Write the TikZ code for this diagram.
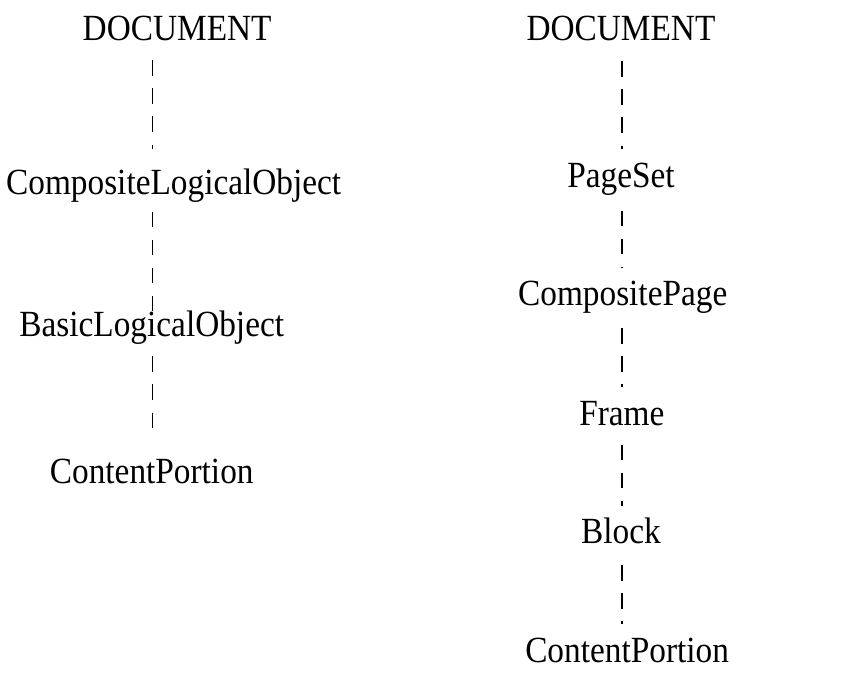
\documentclass[tikz,border=0pt]{standalone}
\usepackage{fontspec}
\setmainfont{Liberation Serif}
\usetikzlibrary{calc}
\begin{document}
\begin{tikzpicture}[x=1pt,y=1pt,xscale=0.877,yscale=0.971,
  lbl/.style={anchor=base,inner sep=0pt,transform shape,font=\fontsize{38}{40}\selectfont},
  conn/.style={line width=1.6pt,dash pattern=on 15.5pt off 12.6pt}]
\useasboundingbox (0,0) rectangle (970.3,706.5);
\coordinate (colL) at (174,0);
\coordinate (colR) at (709,0);
% left column
\node[lbl] (docL) at (202,664.5) {DOCUMENT};
\node[lbl] (clo)  at (198,506.5) {CompositeLogicalObject};
\node[lbl] (blo)  at (173,359.5) {BasicLogicalObject};
\node[lbl] (cpL)  at (173,208.5) {ContentPortion};
% right column
\node[lbl] (docR) at (708,664.5) {DOCUMENT};
\node[lbl] (ps)   at (708,513.5) {PageSet};
\node[lbl] (cpg)  at (710,391.5) {CompositePage};
\node[lbl] (fr)   at (709,268.5) {Frame};
\node[lbl] (blk)  at (708,146.5) {Block};
\node[lbl] (cpR)  at (715,24.5)  {ContentPortion};
% connectors
\draw[conn] ($(docL.base -| colL)+(0,-20)$) -- ($(clo.base -| colL)+(0,47)$);
\draw[conn] ($(clo.base -| colL)+(0,-18)$) -- ($(blo.base -| colL)+(0,27)$);
\draw[conn] ($(blo.base -| colL)+(0,-20)$) -- ($(cpL.base -| colL)+(0,55)$);
\draw[conn] ($(docR.base -| colR)+(0,-21)$) -- ($(ps.base -| colR)+(0,40)$);
\draw[conn] ($(ps.base -| colR)+(0,-24)$) -- ($(cpg.base -| colR)+(0,39)$);
\draw[conn] ($(cpg.base -| colR)+(0,-23)$) -- ($(fr.base -| colR)+(0,39)$);
\draw[conn] ($(fr.base -| colR)+(0,-20)$) -- ($(blk.base -| colR)+(0,39)$);
\draw[conn] ($(blk.base -| colR)+(0,-22)$) -- ($(cpR.base -| colR)+(0,39)$);
\end{tikzpicture}
\end{document}
